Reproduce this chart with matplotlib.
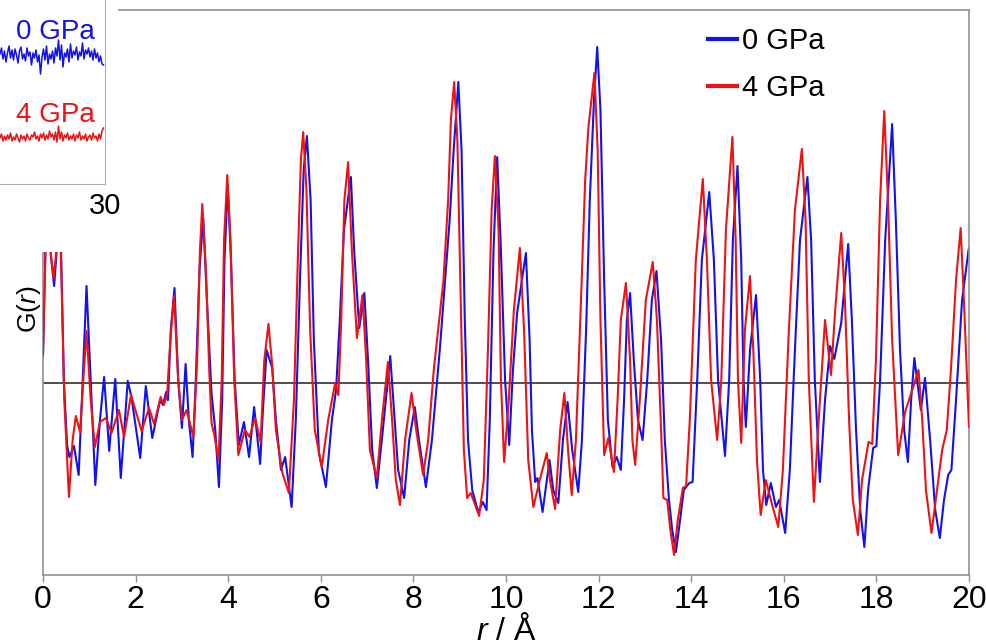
import numpy as np
import matplotlib
matplotlib.use('Agg')
import matplotlib.pyplot as plt
from matplotlib.lines import Line2D

plt.rcParams['font.family'] = ['Liberation Sans', 'DejaVu Sans']
plt.rcParams['mathtext.fontset'] = 'custom'
plt.rcParams['mathtext.rm'] = 'Liberation Sans'
plt.rcParams['mathtext.it'] = 'Liberation Sans:italic'

# G(r), arbitrary units: (r in Angstrom, G)
blue_rg = [
    (0.00, 0.27), (0.06, 1.53), (0.12, 1.83), (0.17, 1.28), (0.24, 0.97),
    (0.29, 1.28), (0.33, 1.83), (0.39, 1.33), (0.45, 0.03), (0.52, -0.62),
    (0.57, -0.74), (0.67, -0.63), (0.77, -0.92), (0.84, -0.17), (0.94, 0.97),
    (1.04, -0.07), (1.13, -1.02), (1.23, -0.37), (1.32, 0.06), (1.43, -0.68),
    (1.56, 0.04), (1.68, -0.95), (1.83, 0.02), (1.91, -0.14), (2.10, -0.75),
    (2.22, -0.03), (2.36, -0.55), (2.53, -0.17), (2.59, -0.22), (2.66, -0.09),
    (2.70, -0.17), (2.76, 0.53), (2.84, 0.95), (2.92, 0.03), (3.00, -0.45),
    (3.08, 0.19), (3.15, -0.37), (3.23, -0.74), (3.30, 0.03), (3.38, 1.13),
    (3.46, 1.65), (3.54, 0.83), (3.64, -0.10), (3.72, -0.47), (3.80, -1.04),
    (3.87, -0.17), (3.92, 1.23), (3.99, 1.98), (4.06, 1.23), (4.14, 0.03),
    (4.23, -0.62), (4.34, -0.39), (4.45, -0.74), (4.56, -0.24), (4.69, -0.81),
    (4.75, -0.27), (4.83, 0.33), (4.95, 0.15), (5.03, -0.37), (5.14, -0.87),
    (5.23, -0.74), (5.37, -1.24), (5.46, -0.37), (5.55, 1.03), (5.63, 2.13),
    (5.70, 2.47), (5.78, 1.83), (5.85, 0.43), (5.96, -0.70), (6.11, -1.04),
    (6.24, -0.37), (6.33, -0.07), (6.41, 0.63), (6.50, 1.53), (6.65, 2.06),
    (6.72, 1.33), (6.83, 0.55), (6.94, 0.90), (7.02, 0.23), (7.11, -0.67),
    (7.21, -1.05), (7.34, -0.47), (7.50, 0.27), (7.58, -0.27), (7.67, -0.87),
    (7.80, -1.15), (7.91, -0.57), (8.03, -0.24), (8.12, -0.57), (8.27, -1.04),
    (8.40, -0.57), (8.57, 0.33), (8.78, 1.61), (8.87, 2.33), (8.97, 3.01),
    (9.04, 2.33), (9.11, 0.63), (9.18, -0.57), (9.27, -1.07), (9.40, -1.29),
    (9.50, -1.19), (9.58, -1.27), (9.65, -0.37), (9.73, 1.33), (9.81, 2.26),
    (9.89, 1.33), (9.98, 0.03), (10.07, -0.62), (10.15, 0.13), (10.24, 0.70),
    (10.43, 1.30), (10.51, 0.43), (10.56, -0.47), (10.63, -0.99), (10.68, -0.95),
    (10.79, -1.29), (10.94, -0.77), (11.02, -1.07), (11.13, -1.20), (11.23, -0.57),
    (11.33, -0.19), (11.43, -0.67), (11.56, -1.09), (11.64, -0.57), (11.73, 0.53),
    (11.81, 1.83), (11.90, 2.83), (11.97, 3.36), (12.04, 2.73), (12.12, 1.03),
    (12.20, -0.37), (12.30, -0.84), (12.39, -0.74), (12.48, -0.87), (12.55, -0.17),
    (12.61, 0.63), (12.68, 0.90), (12.76, 0.23), (12.85, -0.37), (12.95, -0.57),
    (13.05, 0.03), (13.15, 0.83), (13.25, 1.12), (13.35, 0.43), (13.43, -0.57),
    (13.52, -1.17), (13.59, -1.47), (13.67, -1.69), (13.76, -1.37), (13.84, -1.07),
    (13.96, -1.00), (14.03, -0.99), (14.13, 0.03), (14.23, 1.23), (14.39, 1.91),
    (14.49, 1.23), (14.58, 0.03), (14.73, -0.73), (14.82, 0.03), (14.90, 1.43),
    (15.00, 2.17), (15.08, 1.23), (15.13, 0.03), (15.18, -0.44), (15.27, 0.33),
    (15.40, 0.88), (15.49, 0.03), (15.55, -0.87), (15.62, -1.22), (15.72, -1.00),
    (15.83, -1.24), (15.90, -1.17), (16.03, -1.50), (16.13, -0.87), (16.24, 0.33),
    (16.35, 1.43), (16.51, 2.06), (16.59, 1.43), (16.67, 0.03), (16.78, -0.99),
    (16.89, -0.17), (17.00, 0.37), (17.09, 0.24), (17.24, 0.60), (17.39, 1.39),
    (17.47, 0.63), (17.56, -0.47), (17.65, -1.27), (17.74, -1.64), (17.82, -1.07),
    (17.93, -0.65), (18.00, -0.63), (18.08, 0.03), (18.19, 1.43), (18.34, 2.59),
    (18.42, 1.63), (18.51, 0.33), (18.60, -0.47), (18.68, -0.79), (18.75, -0.17),
    (18.82, 0.25), (18.96, -0.27), (19.05, 0.05), (19.16, -0.57), (19.27, -1.27),
    (19.37, -1.55), (19.46, -1.17), (19.55, -0.92), (19.62, -0.87), (19.72, -0.17),
    (19.85, 0.83), (19.99, 1.33), (20.00, 1.35),
]

red_rg = [
    (0.00, 0.29), (0.06, 1.43), (0.12, 1.83), (0.17, 1.28), (0.23, 1.05),
    (0.29, 1.33), (0.33, 1.83), (0.39, 1.23), (0.46, -0.17), (0.56, -1.14),
    (0.64, -0.57), (0.71, -0.33), (0.80, -0.49), (0.87, 0.03), (0.94, 0.52),
    (1.03, -0.17), (1.12, -0.64), (1.23, -0.39), (1.36, -0.35), (1.48, -0.50),
    (1.64, -0.27), (1.75, -0.54), (1.90, -0.12), (2.13, -0.48), (2.29, -0.25),
    (2.40, -0.41), (2.54, -0.14), (2.61, -0.22), (2.68, -0.12), (2.75, 0.43),
    (2.83, 0.87), (2.92, 0.03), (3.00, -0.37), (3.10, -0.27), (3.25, -0.54),
    (3.33, 0.23), (3.39, 1.33), (3.44, 1.79), (3.52, 1.13), (3.59, 0.13),
    (3.64, -0.40), (3.70, -0.52), (3.79, -0.77), (3.86, 0.03), (3.91, 1.43),
    (3.98, 2.08), (4.05, 1.43), (4.13, 0.03), (4.22, -0.72), (4.36, -0.47),
    (4.46, -0.54), (4.58, -0.35), (4.70, -0.59), (4.78, 0.23), (4.87, 0.59),
    (4.95, 0.18), (5.03, -0.47), (5.17, -0.90), (5.31, -1.10), (5.42, -0.17),
    (5.51, 1.33), (5.57, 2.23), (5.62, 2.51), (5.69, 1.93), (5.77, 0.53),
    (5.87, -0.47), (6.02, -0.84), (6.16, -0.37), (6.31, 0.00), (6.38, -0.12),
    (6.44, 0.63), (6.51, 1.83), (6.59, 2.21), (6.67, 1.33), (6.78, 0.45),
    (6.90, 0.88), (6.98, 0.23), (7.06, -0.67), (7.21, -0.95), (7.32, -0.37),
    (7.45, 0.21), (7.54, -0.37), (7.62, -0.97), (7.71, -1.22), (7.82, -0.57),
    (7.96, -0.10), (8.06, -0.47), (8.21, -0.92), (8.32, -0.57), (8.44, 0.13),
    (8.65, 1.03), (8.75, 1.83), (8.81, 2.63), (8.88, 3.01), (8.95, 2.43),
    (9.03, 0.63), (9.09, -0.67), (9.16, -1.15), (9.24, -1.10), (9.42, -1.33),
    (9.52, -0.97), (9.61, 0.33), (9.69, 1.73), (9.76, 2.27), (9.84, 1.53),
    (9.89, 0.03), (9.96, -0.79), (10.06, -0.17), (10.17, 0.73), (10.30, 1.35),
    (10.39, 0.53), (10.48, -0.77), (10.59, -1.24), (10.73, -0.97), (10.88, -0.70),
    (10.95, -0.97), (11.06, -1.26), (11.17, -0.47), (11.26, -0.10), (11.34, -0.67),
    (11.42, -1.12), (11.51, -0.57), (11.62, 0.83), (11.71, 2.03), (11.78, 2.56),
    (11.91, 3.10), (11.98, 2.33), (12.04, 0.63), (12.12, -0.72), (12.21, -0.55),
    (12.33, -0.89), (12.41, -0.17), (12.48, 0.63), (12.59, 1.00), (12.68, 0.23),
    (12.73, -0.57), (12.79, -0.82), (12.89, -0.17), (13.02, 0.83), (13.17, 1.21),
    (13.26, 0.63), (13.35, -0.47), (13.40, -1.15), (13.48, -1.17), (13.55, -1.47),
    (13.63, -1.72), (13.71, -1.37), (13.82, -1.05), (13.89, -1.03), (13.97, -0.37),
    (14.10, 1.23), (14.25, 2.04), (14.34, 1.23), (14.43, 0.03), (14.56, -0.57),
    (14.65, 0.03), (14.75, 1.53), (14.89, 2.46), (14.96, 1.43), (15.01, 0.03),
    (15.08, -0.60), (15.16, 0.53), (15.27, 1.07), (15.35, 0.23), (15.42, -0.77),
    (15.50, -1.32), (15.61, -0.97), (15.72, -1.17), (15.88, -1.44), (15.98, -0.87),
    (16.11, 0.53), (16.24, 1.73), (16.39, 2.34), (16.47, 1.63), (16.54, 0.03),
    (16.65, -1.19), (16.74, -0.47), (16.89, 0.63), (17.02, 0.08), (17.11, 0.73),
    (17.24, 1.50), (17.32, 0.83), (17.41, -0.37), (17.49, -1.17), (17.60, -1.52),
    (17.69, -0.97), (17.83, -0.59), (17.91, -0.61), (17.99, 0.23), (18.08, 1.83),
    (18.17, 2.72), (18.25, 1.83), (18.34, 0.43), (18.47, -0.72), (18.62, -0.29),
    (18.76, -0.09), (18.91, 0.13), (18.99, -0.37), (19.07, -1.07), (19.19, -1.50),
    (19.31, -1.07), (19.42, -0.67), (19.52, -0.47), (19.61, 0.13), (19.72, 1.03),
    (19.82, 1.55), (19.89, 0.83), (20.00, -0.44),
]

# inset: high-Q tail of the two patterns (only the right end is visible)
inset_x = np.arange(19.5, 29.9, 0.15)
inset_blue = [
    1.30, 1.36, 1.25, 1.33, 1.22, 1.31, 1.38, 1.26, 1.34, 1.24,
    1.35, 1.29, 1.21, 1.33, 1.37, 1.25, 1.30, 1.23, 1.36, 1.28,
    1.32, 1.19, 1.31, 1.26, 1.34, 1.22, 1.29, 1.10, 1.27, 1.35,
    1.24, 1.38, 1.20, 1.30, 1.25, 1.33, 1.21, 1.36, 1.28, 1.44,
    1.24, 1.39, 1.17, 1.31, 1.27, 1.35, 1.22, 1.40, 1.26, 1.33,
    1.29, 1.37, 1.24, 1.32, 1.28, 1.41, 1.25, 1.34, 1.30, 1.36,
    1.27, 1.33, 1.24, 1.35, 1.26, 1.31, 1.22, 1.28, 1.20, 1.19,
]
inset_red = [
    0.46, 0.50, 0.43, 0.48, 0.44, 0.49, 0.45, 0.51, 0.43, 0.47,
    0.44, 0.50, 0.46, 0.42, 0.49, 0.45, 0.48, 0.43, 0.50, 0.46,
    0.44, 0.49, 0.47, 0.52, 0.45, 0.48, 0.43, 0.50, 0.46, 0.51,
    0.44, 0.49, 0.45, 0.53, 0.47, 0.50, 0.44, 0.52, 0.42, 0.58,
    0.45, 0.52, 0.43, 0.49, 0.46, 0.51, 0.44, 0.48, 0.45, 0.50,
    0.43, 0.49, 0.46, 0.52, 0.44, 0.48, 0.45, 0.50, 0.43, 0.47,
    0.49, 0.44, 0.51, 0.46, 0.48, 0.43, 0.50, 0.45, 0.53, 0.56,
]

labels = ['0 GPa', '4 GPa']
colors = ['#1212ee', '#ee1212']
xticks = [0, 2, 4, 6, 8, 10, 12, 14, 16, 18, 20]

W, H = 986, 643
fig = plt.figure(figsize=(W / 100, H / 100), dpi=100)

def px_box(x0, y0, x1, y1):
    # pixel box (top-left origin) -> figure fraction rect
    return [x0 / W, 1 - y1 / H, (x1 - x0) / W, (y1 - y0) / H]

ax = fig.add_axes(px_box(43, 10, 969, 575))
r_b, g_b = np.array(blue_rg).T
r_r, g_r = np.array(red_rg).T
ax.axhline(0, color='#303030', lw=1.2, zorder=1)
ax.plot(r_b, g_b, color=colors[0], lw=1.5, zorder=2)
ax.plot(r_r, g_r, color=colors[1], lw=1.5, zorder=3)
ax.set_xlim(0, 20)
ax.set_ylim(-1.92, 3.73)
ax.set_yticks([])
ax.set_xticks(xticks)
ax.set_xticklabels([str(t) for t in xticks], fontsize=23)
ax.tick_params(axis='x', direction='out', length=5, width=1, color='#909090', pad=2)
for s in ax.spines.values():
    s.set_color('#909090')
    s.set_linewidth(1.2)

ax.set_xlabel(r'$\mathit{r}$ / Å', fontsize=23)
ax.xaxis.set_label_coords(0.5, -0.07)
ax.set_ylabel(r'G($\mathit{r}$)', fontsize=19)
ax.yaxis.set_label_coords(0.0, 0.47)

handles = [Line2D([], [], color=c, lw=3) for c in colors]
ax.legend(handles, labels, loc='upper left', bbox_to_anchor=(708 / W, 1 - 27 / H),
          bbox_transform=fig.transFigure, frameon=False, fontsize=21,
          handlelength=1.0, handletextpad=0.15, labelspacing=0.65,
          borderpad=0, borderaxespad=0)

# white patch behind the inset
cover = fig.add_axes(px_box(0, 0, 118, 252))
cover.set_facecolor('white')
cover.set_xticks([])
cover.set_yticks([])
for s in cover.spines.values():
    s.set_visible(False)
cover.set_zorder(3)

ins = fig.add_axes(px_box(-195, -20, 105, 184))
ins.set_zorder(4)
ins.plot(inset_x, inset_blue, color=colors[0], lw=1.1)
ins.plot(inset_x, inset_red, color=colors[1], lw=1.1)
ins.set_xlim(0, 30)
ins.set_ylim(0, 2.04)
ins.set_yticks([])
ins.set_xticks([30])
ins.set_xticklabels(['30'], fontsize=21)
ins.tick_params(axis='x', length=0, pad=6)
for k in ['top', 'left']:
    ins.spines[k].set_visible(False)
for k in ['right', 'bottom']:
    ins.spines[k].set_color('#b0b0b0')
ins.text(0.967, 0.745, labels[0], color=colors[0], fontsize=20,
         ha='right', va='center', transform=ins.transAxes)
ins.text(0.967, 0.34, labels[1], color=colors[1], fontsize=20,
         ha='right', va='center', transform=ins.transAxes)

fig.savefig('out.png', dpi=100)
